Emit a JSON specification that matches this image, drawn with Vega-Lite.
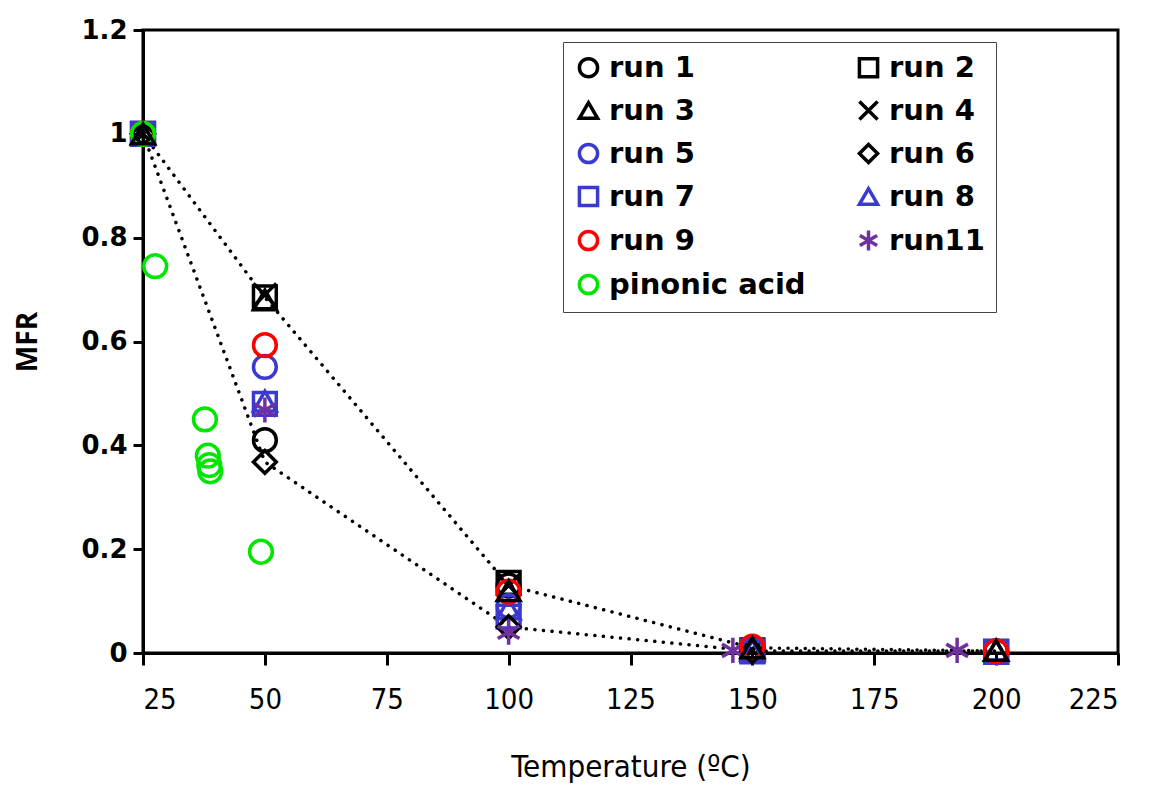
{
  "$schema": "https://vega.github.io/schema/vega-lite/v6.json",
  "width": 975,
  "height": 623,
  "autosize": {"type": "none"},
  "padding": {"left": 143, "top": 30, "right": 31, "bottom": 134},
  "background": "white",
  "config": {
    "view": {"stroke": "black", "strokeWidth": 3},
    "axis": {"grid": false, "domainColor": "black", "domainWidth": 3, "tickColor": "black", "tickWidth": 3, "labelColor": "black", "titleColor": "black"}
  },
  "datasets": {
    "lines": [
      {"line": "A", "T": 25, "MFR": 1},
      {"line": "A", "T": 50, "MFR": 0.685},
      {"line": "A", "T": 100, "MFR": 0.13},
      {"line": "A", "T": 150, "MFR": 0.01},
      {"line": "A", "T": 200, "MFR": 0.004},
      {"line": "B", "T": 25, "MFR": 1},
      {"line": "B", "T": 50, "MFR": 0.368},
      {"line": "B", "T": 100, "MFR": 0.05},
      {"line": "B", "T": 150, "MFR": 0.004},
      {"line": "B", "T": 200, "MFR": 0.004}
    ],
    "points": [
      {"series": "run 2", "T": 25, "MFR": 1},
      {"series": "run 2", "T": 50, "MFR": 0.685},
      {"series": "run 2", "T": 100, "MFR": 0.135},
      {"series": "run 2", "T": 150, "MFR": 0.005},
      {"series": "run 2", "T": 200, "MFR": 0.002},
      {"series": "run 4", "T": 25, "MFR": 1},
      {"series": "run 4", "T": 50, "MFR": 0.69},
      {"series": "run 4", "T": 100, "MFR": 0.13},
      {"series": "run 4", "T": 150, "MFR": 0.005},
      {"series": "run 1", "T": 25, "MFR": 1},
      {"series": "run 1", "T": 50, "MFR": 0.41},
      {"series": "run 1", "T": 100, "MFR": 0.13},
      {"series": "run 1", "T": 150, "MFR": 0.01},
      {"series": "run 1", "T": 200, "MFR": 0.003},
      {"series": "run 7", "T": 25, "MFR": 1},
      {"series": "run 7", "T": 50, "MFR": 0.48},
      {"series": "run 7", "T": 100, "MFR": 0.07},
      {"series": "run 7", "T": 150, "MFR": 0.003},
      {"series": "run 7", "T": 200, "MFR": 0.002},
      {"series": "run 8", "T": 25, "MFR": 1},
      {"series": "run 8", "T": 50, "MFR": 0.485},
      {"series": "run 8", "T": 100, "MFR": 0.085},
      {"series": "run 8", "T": 150, "MFR": 0.005},
      {"series": "run 8", "T": 200, "MFR": 0.005},
      {"series": "run 5", "T": 25, "MFR": 1},
      {"series": "run 5", "T": 50, "MFR": 0.551},
      {"series": "run 5", "T": 100, "MFR": 0.09},
      {"series": "run 5", "T": 150, "MFR": 0.005},
      {"series": "run 6", "T": 25, "MFR": 1},
      {"series": "run 6", "T": 50, "MFR": 0.368},
      {"series": "run 6", "T": 100, "MFR": 0.05},
      {"series": "run 6", "T": 150, "MFR": 0.003},
      {"series": "run11", "T": 50, "MFR": 0.468},
      {"series": "run11", "T": 100, "MFR": 0.04},
      {"series": "run11", "T": 146, "MFR": 0.005},
      {"series": "run11", "T": 192, "MFR": 0.005},
      {"series": "run 9", "T": 25, "MFR": 1},
      {"series": "run 9", "T": 50, "MFR": 0.593},
      {"series": "run 9", "T": 100, "MFR": 0.118},
      {"series": "run 9", "T": 150, "MFR": 0.012},
      {"series": "run 9", "T": 200, "MFR": 0.003},
      {"series": "pinonic acid", "T": 25, "MFR": 1},
      {"series": "pinonic acid", "T": 27.5, "MFR": 0.745},
      {"series": "pinonic acid", "T": 37.7, "MFR": 0.45},
      {"series": "pinonic acid", "T": 38.3, "MFR": 0.38},
      {"series": "pinonic acid", "T": 38.6, "MFR": 0.362},
      {"series": "pinonic acid", "T": 38.8, "MFR": 0.35},
      {"series": "pinonic acid", "T": 49.2, "MFR": 0.195},
      {"series": "run 3", "T": 25, "MFR": 1},
      {"series": "run 3", "T": 50, "MFR": 0.68},
      {"series": "run 3", "T": 100, "MFR": 0.12},
      {"series": "run 3", "T": 150, "MFR": 0.01},
      {"series": "run 3", "T": 200, "MFR": 0.005}
    ]
  },
  "layer": [
    {
      "data": {"name": "lines"},
      "mark": {"type": "line", "color": "black", "strokeWidth": 3.5, "strokeDash": [0.1, 8.5], "strokeCap": "round"},
      "encoding": {
        "x": {"field": "T", "type": "quantitative"},
        "y": {"field": "MFR", "type": "quantitative"},
        "detail": {"field": "line"}
      }
    },
    {
      "data": {"name": "points"},
      "mark": {"type": "point", "filled": false, "strokeWidth": 3.5, "size": 520, "opacity": 1},
      "encoding": {
        "x": {
          "field": "T", "type": "quantitative",
          "scale": {"domain": [25, 225], "nice": false, "zero": false},
          "axis": {"values": [25, 50, 75, 100, 125, 150, 175, 200, 225], "tickSize": 12, "labelPadding": 20, "labelFont": "'DejaVu Sans Condensed', 'Liberation Sans Narrow', sans-serif", "labelFontSize": 29, "labelFontWeight": "normal", "title": "Temperature (ºC)", "titleFont": "'DejaVu Sans Condensed', 'Liberation Sans Narrow', sans-serif", "titleFontSize": 31, "titleFontWeight": "normal", "titlePadding": 38}
        },
        "y": {
          "field": "MFR", "type": "quantitative",
          "scale": {"domain": [0, 1.2], "nice": false, "zero": true},
          "axis": {"values": [0, 0.2, 0.4, 0.6, 0.8, 1, 1.2], "format": "~g", "tickSize": 10, "labelPadding": 6, "labelFont": "DejaVu Sans", "labelFontSize": 26, "labelFontWeight": "bold", "title": "MFR", "titleFont": "Open Sans", "titleFontSize": 28, "titleFontWeight": "bold", "titlePadding": 38}
        },
        "color": {
          "field": "series", "type": "nominal",
          "scale": {
            "domain": ["run 1", "run 3", "run 5", "run 7", "run 9", "pinonic acid", "run 2", "run 4", "run 6", "run 8", "run11"],
            "range": ["#000000", "#000000", "#3a3ad0", "#3a3ad0", "#ff0000", "#00e600", "#000000", "#000000", "#000000", "#3a3ad0", "#7030a0"]
          },
          "legend": {
            "title": null, "orient": "none", "legendX": 420, "legendY": 12, "columns": 2, "columnPadding": 46, "rowPadding": 10,
            "labelFont": "DejaVu Sans", "labelFontSize": 29, "labelFontWeight": "bold", "labelColor": "black", "labelLimit": 400, "labelOffset": 6,
            "symbolSize": 330, "symbolStrokeWidth": 3.5, "symbolOffset": 0,
            "strokeColor": "#444444", "fillColor": "white", "padding": 11
          }
        },
        "shape": {
          "field": "series", "type": "nominal",
          "scale": {
            "domain": ["run 1", "run 3", "run 5", "run 7", "run 9", "pinonic acid", "run 2", "run 4", "run 6", "run 8", "run11"],
            "range": ["circle", "triangle-up", "circle", "square", "circle", "circle", "square", "M-1,-1L1,1M1,-1L-1,1", "diamond", "triangle-up", "M0,-1.1L0,1.1M-0.95,-0.55L0.95,0.55M-0.95,0.55L0.95,-0.55"]
          }
        }
      }
    }
  ]
}
